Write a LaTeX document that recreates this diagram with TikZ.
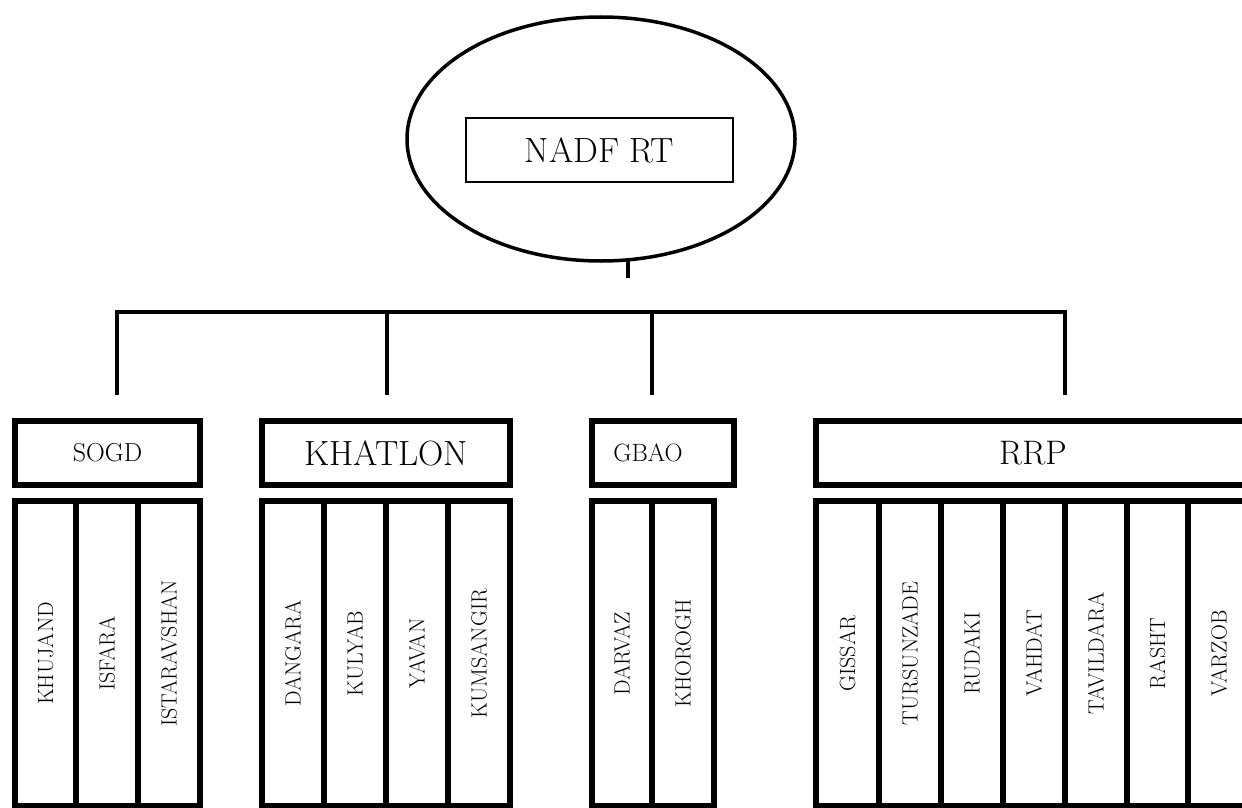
\documentclass[tikz,border=0pt]{standalone}
\usetikzlibrary{shapes.geometric}
\begin{document}
\begin{tikzpicture}[x=1pt,y=-1pt,
  hdr/.style={draw, line width=6pt, rectangle, inner sep=0pt, outer sep=0pt, minimum height=64pt},
  colbox/.style={draw, line width=6pt, rectangle, rotate=90, inner sep=0pt, outer sep=0pt,
     minimum width=305pt, font=\fontsize{22}{26}\selectfont},
  big/.style={font=\fontsize{35}{40}\selectfont},
  small/.style={font=\fontsize{26}{30}\selectfont},
  conn/.style={line width=4pt, line join=miter}]
\useasboundingbox (0,0) rectangle (1242,808);
\fill[white] (0,0) rectangle (1242,808);
\clip (0,0) rectangle (1242,808);

% root
\node[draw, ellipse, line width=3.5pt, inner sep=0pt, minimum width=388pt, minimum height=244pt] (root) at (601,139) {};
\node[draw, line width=1.5pt, rectangle, inner sep=0pt, minimum width=267pt, minimum height=64pt,
      font=\fontsize{35}{40}\selectfont] (nadf) at (599.5,150) {NADF RT};

% headers
\node[hdr, minimum width=185pt, small] (sogd) at (107.5,453) {SOGD};
\node[hdr, minimum width=248pt, big] (khatlon) at (386,453) {KHATLON};
\node[hdr, minimum width=142pt] (gbao) at (663,453) {};
\node[font=\fontsize{25}{29}\selectfont] (gbaot) at ([xshift=-15pt]gbao.center) {GBAO};
\node[hdr, minimum width=434pt, font=\fontsize{34}{39}\selectfont] (rrp) at (1033,453) {RRP};

% columns SOGD
\node[colbox, minimum height=61pt] (c1) at (45.5,653.5) {KHUJAND};
\node[colbox, minimum height=62pt] (c2) at (107,653.5) {ISFARA};
\node[colbox, minimum height=62pt] (c3) at (169,653.5) {ISTARAVSHAN};
% columns KHATLON
\node[colbox, minimum height=62pt] (k1) at (293,653.5) {DANGARA};
\node[colbox, minimum height=62pt] (k2) at (355,653.5) {KULYAB};
\node[colbox, minimum height=62pt] (k3) at (417,653.5) {YAVAN};
\node[colbox, minimum height=62pt] (k4) at (479,653.5) {KUMSANGIR};
% columns GBAO
\node[colbox, minimum height=60pt] (g1) at (622,653.5) {DARVAZ};
\node[colbox, minimum height=62pt] (g2) at (683,653.5) {KHOROGH};
% columns RRP
\node[colbox, minimum height=63pt] (r1) at (847.5,653.5) {GISSAR};
\node[colbox, minimum height=62pt] (r2) at (910,653.5) {TURSUNZADE};
\node[colbox, minimum height=62pt] (r3) at (972,653.5) {RUDAKI};
\node[colbox, minimum height=62pt] (r4) at (1034,653.5) {VAHDAT};
\node[colbox, minimum height=62pt] (r5) at (1096,653.5) {TAVILDARA};
\node[colbox, minimum height=61pt] (r6) at (1157.5,653.5) {RASHT};
\node[colbox, minimum height=62pt] (r7) at (1219,653.5) {VARZOB};

% connectors
\coordinate (stubtop) at (628,261);
\coordinate (stubend) at (628,278);
\draw[conn] (stubtop) -- (stubend);

\coordinate (t1) at (117,312);
\coordinate (t2) at (387,312);
\coordinate (t3) at (652,312);
\coordinate (t4) at (1065,312);
\coordinate (b1) at (117,395);
\coordinate (b2) at (387,395);
\coordinate (b3) at (652,395);
\coordinate (b4) at (1065,395);
\draw[conn] (b1) -- (t1) -- (t4) -- (b4);
\draw[conn] (t2) -- (b2);
\draw[conn] (t3) -- (b3);
\end{tikzpicture}
\end{document}
